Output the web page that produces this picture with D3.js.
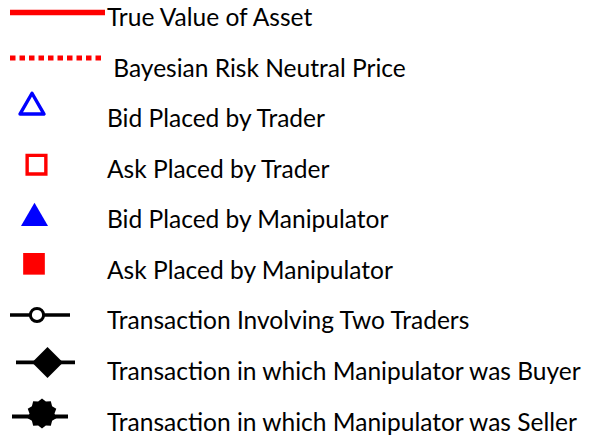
<!DOCTYPE html>
<html><head><meta charset="utf-8">
<script src="https://cdn.jsdelivr.net/npm/d3@7"></script>
<style>html,body{margin:0;padding:0;background:#fff;overflow:hidden}</style>
</head><body>
<svg id="c" width="592" height="438"></svg>
<script>
const labels = [
  "True Value of Asset",
  " Bayesian Risk Neutral Price",
  "Bid Placed by Trader",
  "Ask Placed by Trader",
  "Bid Placed by Manipulator",
  "Ask Placed by Manipulator",
  "Transaction Involving Two Traders",
  "Transaction in which Manipulator was Buyer",
  "Transaction in which Manipulator was Seller"
];
const kinds = ["solidLine","dottedLine","triOpen","sqOpen","triFill","sqFill","circLine","diamLine","starLine"];

const svg = d3.select("#c");
const y = d3.scalePoint().domain(labels).range([26, 430.5]);
const textX = 107;

// font fitting (Calibri-like metrics)
const font = "Lato, 'Open Sans', sans-serif";
const probe = svg.append("text").attr("font-family", font).attr("font-size", 100)
  .text(labels[7]);
const w100 = probe.node().getComputedTextLength();
probe.remove();
const fs = 100 * 474 / w100;

const g = svg.append("g");
g.selectAll("text.lbl").data(labels).join("text")
  .attr("class","lbl")
  .attr("x", textX).attr("y", d => y(d))
  .attr("font-family", font).attr("font-size", fs)
  .attr("fill", "#000")
  .style("white-space","pre")
  .text(d => d);

const red = "#ff0000", blue = "#0000ff";
const sym = (type, size) => d3.symbol().type(type).size(size)();

function gear(rOut, rIn, n) {
  const pts = d3.range(n*2).map(i => [ (i*Math.PI)/n, i%2 ? rIn : rOut ]);
  return d3.lineRadial().curve(d3.curveLinearClosed)(pts);
}

labels.forEach((lab, i) => {
  const k = kinds[i];
  const ry = y(lab);
  const m = g.append("g");
  if (k === "solidLine") {
    const cy = ry - 13.5;
    m.append("line").attr("x1",10).attr("x2",105).attr("y1",cy).attr("y2",cy)
      .attr("stroke",red).attr("stroke-width",5.5);
  } else if (k === "dottedLine") {
    const cy = ry - 18.5;
    m.append("line").attr("x1",10).attr("x2",105).attr("y1",cy).attr("y2",cy)
      .attr("stroke",red).attr("stroke-width",5).attr("stroke-dasharray","5.5,4");
  } else if (k === "triOpen") {
    m.append("path").attr("d", sym(d3.symbolTriangle, 250))
      .attr("transform",`translate(32,${ry-20})`)
      .attr("fill","none").attr("stroke",blue).attr("stroke-width",3.4).attr("stroke-linejoin","round");
  } else if (k === "sqOpen") {
    m.append("path").attr("d", sym(d3.symbolSquare, 350))
      .attr("transform",`translate(36.5,${ry-13})`)
      .attr("fill","#fff").attr("stroke",red).attr("stroke-width",3.4);
  } else if (k === "triFill") {
    m.append("path").attr("d", sym(d3.symbolTriangle, 316))
      .attr("transform",`translate(34.5,${ry-10})`)
      .attr("fill",blue);
  } else if (k === "sqFill") {
    m.append("path").attr("d", sym(d3.symbolSquare, 470))
      .attr("transform",`translate(34,${ry-15})`)
      .attr("fill",red);
  } else if (k === "circLine") {
    const cy = ry - 14.4;
    m.append("line").attr("x1",10).attr("x2",70).attr("y1",cy).attr("y2",cy)
      .attr("stroke","#000").attr("stroke-width",3.5);
    m.append("circle").attr("cx",37).attr("cy",cy).attr("r",6.6)
      .attr("fill","#fff").attr("stroke","#000").attr("stroke-width",3);
  } else if (k === "diamLine") {
    const cy = ry - 17.5;
    m.append("line").attr("x1",16).attr("x2",75).attr("y1",cy).attr("y2",cy)
      .attr("stroke","#000").attr("stroke-width",3.8);
    m.append("path").attr("d", sym(d3.symbolSquare, 480))
      .attr("transform",`translate(47.5,${cy}) rotate(45)`).attr("fill","#000");
  } else {
    const cy = ry - 16;
    m.append("line").attr("x1",12).attr("x2",68).attr("y1",cy+2).attr("y2",cy+2)
      .attr("stroke","#000").attr("stroke-width",3.8);
    m.append("path").attr("d", gear(15, 12.5, 10))
      .attr("transform",`translate(42,${cy-1})`).attr("fill","#000");
  }
});
</script>
</body></html>
